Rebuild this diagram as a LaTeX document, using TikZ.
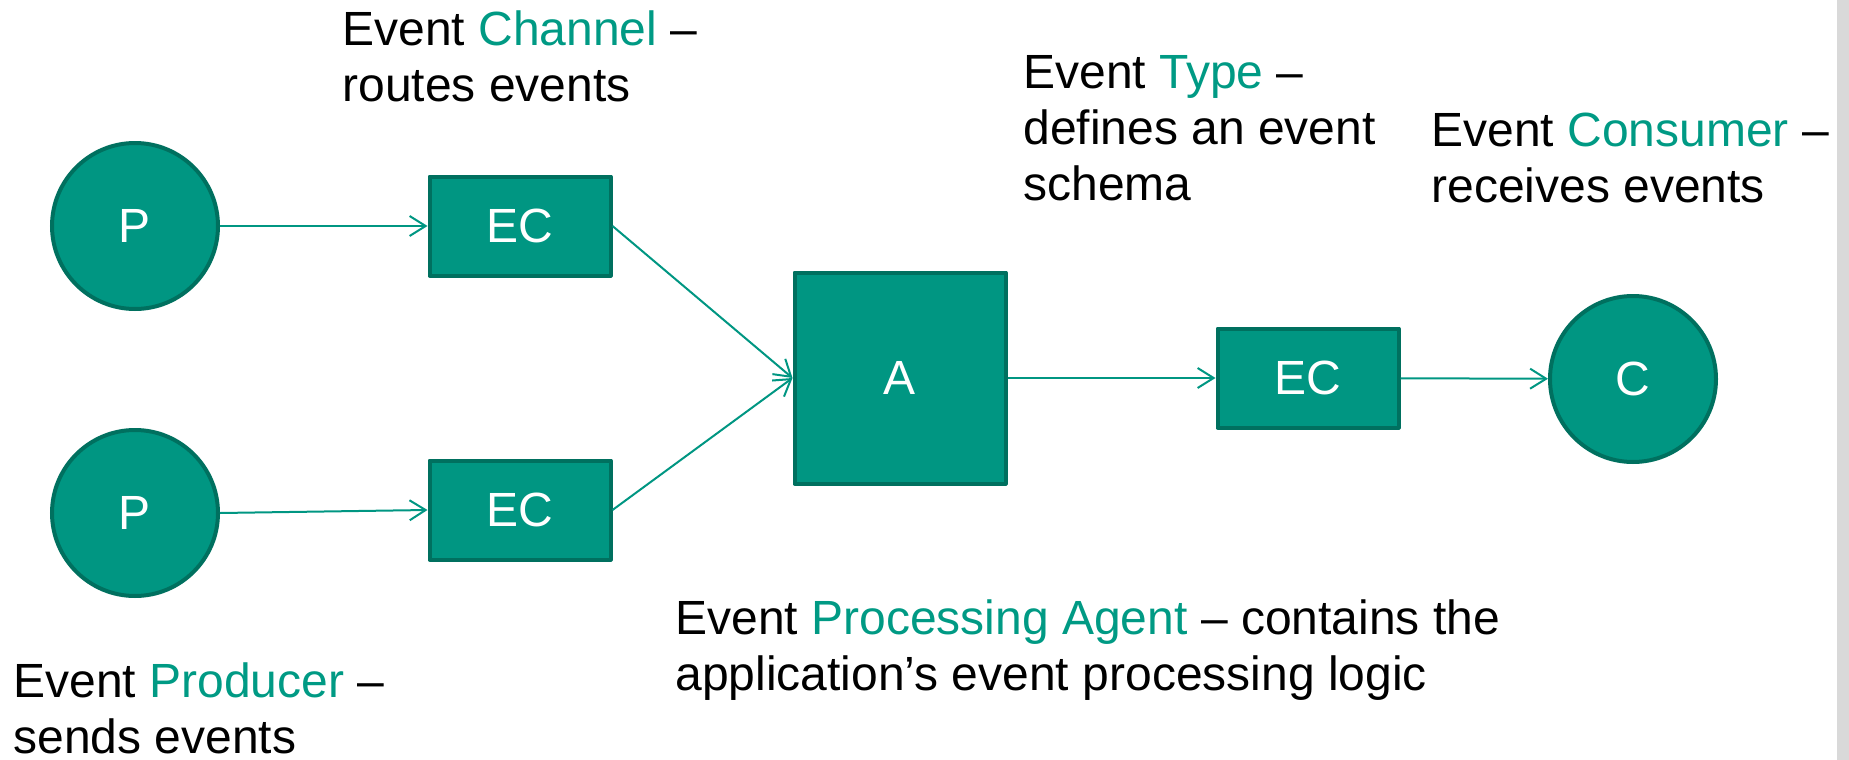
\documentclass[tikz,border=0pt]{standalone}
\usepackage{fontspec}
\setmainfont{Liberation Sans}
\usepackage{xcolor}
\usetikzlibrary{arrows.meta}
\definecolor{evfill}{HTML}{009682}
\definecolor{evedge}{HTML}{00705F}
\definecolor{evtext}{HTML}{009A84}
\definecolor{sidebar}{HTML}{D9D9D9}
\newcommand{\hl}[1]{\textcolor{evtext}{#1}}
\tikzset{
  ent/.style={circle, draw=evedge, fill=evfill, line width=2pt, minimum size=83pt, inner sep=0pt, text=white},
  chan/.style={rectangle, draw=evedge, fill=evfill, line width=2pt, line join=round, minimum width=90.5pt, minimum height=49.5pt, inner sep=0pt, text=white},
  agent/.style={chan, minimum width=105.5pt, minimum height=105.5pt},
  flow/.style={draw=evfill, line width=1pt, -{Straight Barb[length=8pt,width=10pt]}},
  note/.style={anchor=base west, align=left, inner sep=0pt, text=black},
}

\begin{document}
\begin{tikzpicture}[x=0.5pt, y=-0.5pt, font=\fontsize{24}{28}\selectfont]
  \useasboundingbox (0,0) rectangle (1849,760);
  \fill[sidebar] (1837,0) rectangle (1849,760);
  % producers, channels, agent, consumer
  \node[ent] (p1) at (135,226) {P};
  \node[ent] (p2) at (135,513) {P};
  \node[chan] (ec1) at (520,226) {EC};
  \node[chan] (ec2) at (520,510) {EC};
  \node[agent] (a) at (900,378) {A};
  \node[chan] (ec3) at (1308,378) {EC};
  \node[ent] (c) at (1633,379) {C};
  \draw[flow] (p1) -- (ec1);
  \draw[flow] (p2.east) -- (ec2.west);
  \draw[flow] (ec1.east) -- (a.west);
  \draw[flow] (ec2.east) -- (a.west);
  \draw[flow] (a) -- (ec3);
  \draw[flow] (ec3) -- (c);
  % descriptions (anchored on the baseline of the last line)
  \node[note] (nchan) at (342,101) {Event \hl{Channel} --\\routes events};
  \node[note] (ntype) at (1023,200) {Event \hl{Type} --\\defines an event\\schema};
  \node[note] (ncons) at (1431,202) {Event \hl{Consumer} --\\receives events};
  \node[note] (nagent) at (675,690) {Event \hl{Processing Agent} -- contains the\\application’s event processing logic};
  \node[note] (nprod) at (13,753) {Event \hl{Producer} --\\sends events};
\end{tikzpicture}
\end{document}
